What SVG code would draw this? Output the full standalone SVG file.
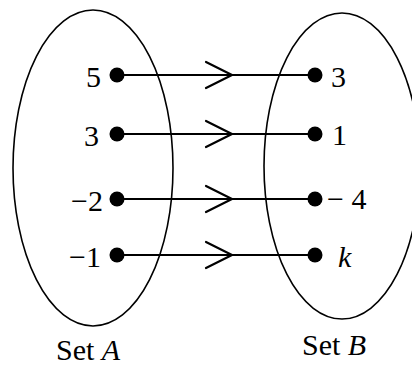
<svg xmlns="http://www.w3.org/2000/svg" width="412" height="367" viewBox="0 0 412 367">
<style>
.set{fill:none;stroke:#000;stroke-width:1.6}
.ln{stroke:#000;stroke-width:2.2;fill:none}
.ah{stroke:#000;stroke-width:2.2;fill:none;stroke-linecap:round;stroke-linejoin:miter}
.dot{fill:#000}
text{font-family:"Liberation Serif","Times New Roman",serif;font-size:30px;fill:#000}
.r{text-anchor:end}
.it{font-style:italic}
</style>
<rect width="412" height="367" fill="#fff"/>
<g id="setA"><ellipse class="set" cx="93" cy="168" rx="80" ry="158"/><text x="56" y="360">Set <tspan class="it">A</tspan></text></g>
<g id="setB"><ellipse class="set" cx="342" cy="166" rx="78" ry="153"/><text x="302" y="355">Set <tspan class="it">B</tspan></text></g>
<g id="connectors">
<line class="ln" x1="117" y1="75" x2="315" y2="75"/><polyline class="ah" points="206,62 232,75 206,88"/>
<line class="ln" x1="117" y1="134" x2="315" y2="134"/><polyline class="ah" points="206,121 232,134 206,147"/>
<line class="ln" x1="117" y1="199" x2="315" y2="199"/><polyline class="ah" points="206,186 232,199 206,212"/>
<line class="ln" x1="117" y1="255" x2="315" y2="255"/><polyline class="ah" points="206,242 232,255 206,268"/>
</g>
<g id="a5"><circle class="dot" cx="117" cy="75" r="7.5"/><text class="r" x="101" y="87">5</text></g>
<g id="a3"><circle class="dot" cx="117" cy="134" r="7.5"/><text class="r" x="99" y="146">3</text></g>
<g id="am2"><circle class="dot" cx="117" cy="199" r="7.5"/><text class="r" x="103" y="211">−2</text></g>
<g id="am1"><circle class="dot" cx="117" cy="255" r="7.5"/><text class="r" x="101" y="267">−1</text></g>
<g id="b3"><circle class="dot" cx="315" cy="75" r="7.5"/><text x="331" y="87">3</text></g>
<g id="b1"><circle class="dot" cx="315" cy="134" r="7.5"/><text x="332" y="145">1</text></g>
<g id="bm4"><circle class="dot" cx="315" cy="199" r="7.5"/><text x="327" y="209">− 4</text></g>
<g id="bk"><circle class="dot" cx="315" cy="255" r="7.5"/><text class="it" x="338" y="267">k</text></g>
</svg>
